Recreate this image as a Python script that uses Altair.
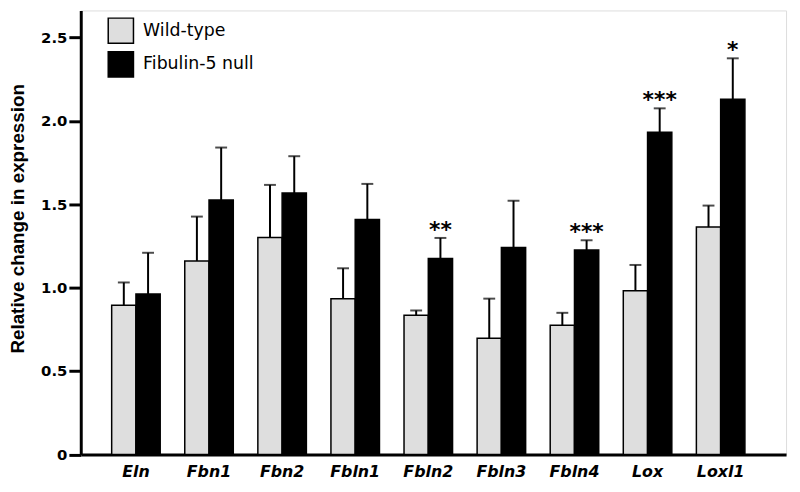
import altair as alt
import pandas as pd

genes = ["Eln", "Fbn1", "Fbn2", "Fbln1", "Fbln2", "Fbln3", "Fbln4", "Lox", "Loxl1"]
groups = ["Wild-type", "Fibulin-5 null"]
wt_mean = [0.895, 1.16, 1.30, 0.934, 0.835, 0.697, 0.774, 0.982, 1.363]
wt_err = [0.136, 0.266, 0.316, 0.182, 0.028, 0.237, 0.075, 0.154, 0.129]
fib_mean = [0.962, 1.525, 1.567, 1.409, 1.175, 1.241, 1.225, 1.932, 2.13]
fib_err = [0.247, 0.315, 0.221, 0.213, 0.123, 0.28, 0.059, 0.143, 0.245]
stars = ["", "", "", "", "**", "", "***", "***", "*"]

rows = []
for i, g in enumerate(genes):
    rows.append({"gene": g, "group": groups[0], "mean": wt_mean[i],
                 "upper": wt_mean[i] + wt_err[i], "star": ""})
    rows.append({"gene": g, "group": groups[1], "mean": fib_mean[i],
                 "upper": fib_mean[i] + fib_err[i], "star": stars[i]})
df = pd.DataFrame(rows)

x = alt.X("gene:N", sort=genes, title=None,
          scale=alt.Scale(paddingInner=0.336, paddingOuter=0.493, align=0.429, round=False),
          axis=alt.Axis(labelAngle=0, ticks=False, labelFont="DejaVu Sans",
                        labelFontWeight="bold", labelFontStyle="italic",
                        labelFontSize=16, labelColor="black", labelPadding=9,
                        domainColor="black", domainWidth=3))
xo = alt.XOffset("group:N", sort=groups, scale=alt.Scale(paddingInner=0, paddingOuter=0, domain=groups))
yscale = alt.Scale(domain=[0, 2.662], nice=False, zero=True)

base = alt.Chart(df)

bars = base.mark_bar(stroke="black", strokeWidth=1.5).encode(
    x=x, xOffset=xo,
    y=alt.Y("mean:Q", scale=yscale, title="Relative change in expression",
            axis=alt.Axis(values=[0, 0.5, 1.0, 1.5, 2.0, 2.5], grid=False,
                          labelExpr="datum.value == 0 ? '0' : format(datum.value, '.1f')",
                          labelFont="DejaVu Sans", labelFontWeight="bold", labelFontSize=15,
                          labelColor="black", labelPadding=2, tickSize=12, tickWidth=3,
                          tickColor="black", domainColor="black", domainWidth=3,
                          titleFont="Liberation Sans", titleFontWeight="bold",
                          titleFontSize=19, titleColor="black", titlePadding=13,
                          titleY=210)),
    color=alt.Color("group:N", sort=groups,
                    scale=alt.Scale(domain=groups, range=["#dedede", "#000000"]),
                    legend=alt.Legend(title=None, orient="none", legendX=27, legendY=7,
                                      symbolType="square", symbolSize=650,
                                      symbolStrokeColor="black", symbolStrokeWidth=1.5,
                                      labelFont="DejaVu Sans", labelFontSize=17.5,
                                      labelColor="black", labelOffset=9, rowPadding=1,
                                      padding=0)),
)

rules = base.mark_rule(color="black", strokeWidth=2).encode(
    x=x, xOffset=xo,
    y=alt.Y("mean:Q", scale=yscale),
    y2="upper:Q",
)

caps = base.mark_tick(color="black", thickness=2, size=12, orient="horizontal").encode(
    x=x, xOffset=xo,
    y=alt.Y("upper:Q", scale=yscale),
)

text = base.mark_text(font="DejaVu Sans", fontWeight="bold", fontSize=22,
                      baseline="alphabetic", dy=-1, color="black").encode(
    x=x, xOffset=xo,
    y=alt.Y("upper:Q", scale=yscale),
    text="star:N",
)

chart = alt.layer(bars, rules, caps, text).properties(
    width=712.5, height=448.5,
    autosize=alt.AutoSizeParams(type="none"),
    padding={"left": 73.5, "top": 0, "right": 6, "bottom": 36},
).configure_view(stroke=None).configure(background="white")

chart.save("out.html", embed_options={"renderer": "svg", "actions": False})
